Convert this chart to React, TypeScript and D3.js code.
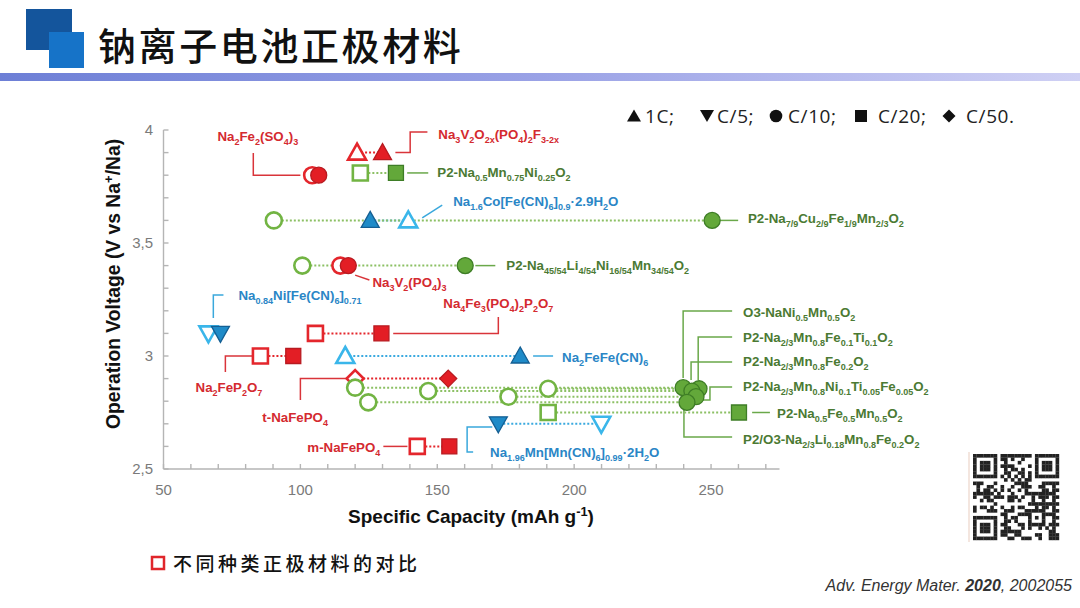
import React, { useEffect } from "react";
import * as d3 from "d3";

const W = 1080;
const H = 608;

// ---------- axis data ----------
const xTickValues = [50, 100, 150, 200, 250];
const xTickLabels = ["50", "100", "150", "200", "250"];
const yTickValues = [2.5, 3, 3.5, 4];
const yTickLabels = ["2,5", "3", "3,5", "4"];

// ---------- legend ----------
const rateOrder = ["1C", "C/5", "C/10", "C/20", "C/50"];
const rateLegendText = ["1C;", "C/5;", "C/10;", "C/20;", "C/50."];

// ---------- materials ----------
const materialNames = [
  "Na_{2}Fe_{2}(SO_{4})_{3}",
  "Na_{3}V_{2}O_{2x}(PO_{4})_{2}F_{3-2x}",
  "P2-Na_{0.5}Mn_{0.75}Ni_{0.25}O_{2}",
  "Na_{1.6}Co[Fe(CN)_{6}]_{0.9}·2.9H_{2}O",
  "P2-Na_{7/9}Cu_{2/9}Fe_{1/9}Mn_{2/3}O_{2}",
  "Na_{3}V_{2}(PO_{4})_{3}",
  "P2-Na_{45/54}Li_{4/54}Ni_{16/54}Mn_{34/54}O_{2}",
  "Na_{0.84}Ni[Fe(CN)_{6}]_{0.71}",
  "Na_{4}Fe_{3}(PO_{4})_{2}P_{2}O_{7}",
  "Na_{2}FeP_{2}O_{7}",
  "Na_{2}FeFe(CN)_{6}",
  "t-NaFePO_{4}",
  "O3-NaNi_{0.5}Mn_{0.5}O_{2}",
  "P2-Na_{2/3}Mn_{0.8}Fe_{0.1}Ti_{0.1}O_{2}",
  "P2-Na_{2/3}Mn_{0.8}Fe_{0.2}O_{2}",
  "P2-Na_{2/3}Mn_{0.8}Ni_{0.1}Ti_{0.05}Fe_{0.05}O_{2}",
  "P2/O3-Na_{2/3}Li_{0.18}Mn_{0.8}Fe_{0.2}O_{2}",
  "P2-Na_{0.5}Fe_{0.5}Mn_{0.5}O_{2}",
  "Na_{1.96}Mn[Mn(CN)_{6}]_{0.99}·2H_{2}O",
  "m-NaFePO_{4}",
];
const materialFamilies = [
  "polyanion", "polyanion", "oxide", "pba", "oxide", "polyanion", "oxide", "pba",
  "polyanion", "polyanion", "pba", "polyanion", "oxide", "oxide", "oxide", "oxide",
  "oxide", "oxide", "pba", "polyanion",
];
const materialRates = [
  "C/10", "1C", "C/20", "1C", "C/10", "C/10", "C/10", "C/5",
  "C/20", "C/20", "1C", "C/50", "C/10", "C/10", "C/10", "C/10",
  "C/10", "C/20", "C/5", "C/20",
];
const materialVoltages = [
  3.8, 3.9, 3.81, 3.6, 3.6, 3.4, 3.4, 3.1,
  3.1, 3.0, 3.0, 2.9, 2.86, 2.855, 2.845, 2.82,
  2.795, 2.75, 2.7, 2.6,
];
const openCapacities = [
  104.3, 120.7, 121.9, 139.4, 90.3, 114.6, 100.7, 66.4,
  105.5, 85.4, 116.4, 120.0, 120.0, 190.5, 146.7, 176.0,
  124.8, 190.5, 209.9, 142.7,
];
const filledCapacities = [
  106.7, 130.0, 134.9, 125.5, 250.4, 117.5, 160.2, 70.8,
  129.6, 97.4, 180.3, 154.0, 239.8, 245.6, 243.0, 244.5,
  241.2, 260.2, 172.3, 154.4,
];

// ---------- annotation layout (data units: capacity, voltage) ----------
const labelAnchors: [number, number, string][] = [
  [69.7, 3.951, "start"],
  [150.4, 3.96, "start"],
  [150.0, 3.792, "start"],
  [155.8, 3.664, "start"],
  [263.5, 3.588, "start"],
  [126.3, 3.305, "start"],
  [175.2, 3.381, "start"],
  [77.4, 3.248, "start"],
  [152.2, 3.212, "start"],
  [61.7, 2.841, "start"],
  [195.6, 2.973, "start"],
  [86.1, 2.708, "start"],
  [261.7, 3.173, "start"],
  [261.7, 3.062, "start"],
  [261.7, 2.956, "start"],
  [261.7, 2.845, "start"],
  [261.7, 2.611, "start"],
  [274.1, 2.726, "start"],
  [169.3, 2.553, "start"],
  [129.2, 2.575, "end"],
];
const leaderPaths: [number, number][][] = [
  [[82.8, 3.898], [82.8, 3.8], [100, 3.8]],
  [[134.7, 3.9], [140.1, 3.9], [140.1, 3.991], [146.4, 3.991]],
  [[139, 3.81], [146.7, 3.81]],
  [[144.5, 3.611], [151.8, 3.668]],
  [[253.3, 3.6], [259.9, 3.6]],
  [[120, 3.358], [125.2, 3.336]],
  [[163.9, 3.4], [171.2, 3.4]],
  [[68.2, 3.168], [68.2, 3.27], [71.9, 3.27]],
  [[133.9, 3.1], [172.3, 3.1], [172.3, 3.173]],
  [[82.5, 3.0], [72.6, 3.0], [72.6, 2.929]],
  [[185, 3.0], [192.3, 3.0]],
  [[117.5, 2.9], [100, 2.9], [100, 2.805]],
  [[239.8, 2.903], [239.8, 3.199], [257.7, 3.199]],
  [[245.3, 2.894], [245.3, 3.084], [257.7, 3.084]],
  [[242.7, 2.894], [242.7, 2.973], [257.7, 2.973]],
  [[247.1, 2.805], [249.6, 2.805], [249.6, 2.863], [257.7, 2.863]],
  [[240.1, 2.792], [240.1, 2.642], [257.7, 2.642]],
  [[265, 2.75], [271.5, 2.75]],
  [[170.1, 2.686], [160.9, 2.686], [160.9, 2.575], [163.1, 2.575]],
  [[130.3, 2.6], [139.1, 2.6]],
];

// ---------- styles ----------
const palette: Record<string, any> = {
  polyanion: { open: "#e4262c", fillFill: "#e31e25", fillStroke: "#b81a20", dot: "#e4262c", text: "#d42a30", leader: "#d9343a" },
  oxide: { open: "#72b443", fillFill: "#63a83a", fillStroke: "#3e7d26", dot: "#8cc064", text: "#4b7a33", leader: "#6aa84a" },
  pba: { open: "#3ab6ea", fillFill: "#1f8bc8", fillStroke: "#155f93", dot: "#3aa9df", text: "#2a86c6", leader: "#3aa8dc" },
};

const LABEL_FONT = "'Liberation Sans Narrow','Arial Narrow','Liberation Sans',Arial,sans-serif";
const SANS = "'Liberation Sans',Arial,sans-serif";
const CJK = "'Noto Sans CJK SC','Noto Sans CJK JP',sans-serif";

function markerPath(rate: string): string {
  switch (rate) {
    case "1C":
      return "M0,-9L9,7L-9,7Z";
    case "C/5":
      return "M0,9L9,-7L-9,-7Z";
    case "C/10": {
      const p = d3.path();
      p.arc(0, 0, 8, 0, Math.PI * 2);
      p.closePath();
      return p.toString();
    }
    case "C/20":
      return "M-7.5,-7.5H7.5V7.5H-7.5Z";
    default:
      return "M0,-8.5L8.5,0L0,8.5L-8.5,0Z";
  }
}

function legendPath(rate: string): string {
  switch (rate) {
    case "1C":
      return "M0,-6.5L7,5.5L-7,5.5Z";
    case "C/5":
      return "M0,6L7,-6L-7,-6Z";
    case "C/10": {
      const p = d3.path();
      p.arc(0, 0, 6.3, 0, Math.PI * 2);
      p.closePath();
      return p.toString();
    }
    case "C/20":
      return "M-6,-6H6V6H-6Z";
    default:
      return "M0,-6.5L6.5,0L0,6.5L-6.5,0Z";
  }
}

function richText(s: string, fs: number) {
  const parts = s.split(/(_\{[^}]*\}|\^\{[^}]*\})/).filter((p) => p.length > 0);
  let shift = 0;
  return parts.map((p, i) => {
    let target = 0;
    let txt = p;
    let size = fs;
    if (p.startsWith("_{")) {
      target = fs * 0.3;
      txt = p.slice(2, -1);
      size = fs * 0.68;
    } else if (p.startsWith("^{")) {
      target = -fs * 0.38;
      txt = p.slice(2, -1);
      size = fs * 0.68;
    }
    const dy = target - shift;
    shift = target;
    return (
      <tspan key={i} dy={dy} fontSize={size}>
        {txt}
      </tspan>
    );
  });
}

// QR-like decoration
function qrCells(n: number) {
  const cells: [number, number][] = [];
  const inFinder = (r: number, c: number) =>
    (r < 8 && c < 8) || (r < 8 && c >= n - 8) || (r >= n - 8 && c < 8);
  const finderOn = (r: number, c: number) => {
    const rr = r >= n - 8 ? r - (n - 7) : r;
    const cc = c >= n - 8 ? c - (n - 7) : c;
    if (rr < 0 || cc < 0 || rr > 6 || cc > 6) return false;
    if (rr === 0 || rr === 6 || cc === 0 || cc === 6) return true;
    return rr >= 2 && rr <= 4 && cc >= 2 && cc <= 4;
  };
  for (let r = 0; r < n; r++) {
    for (let c = 0; c < n; c++) {
      let on: boolean;
      if (inFinder(r, c)) on = finderOn(r, c);
      else if (r >= n - 9 && r <= n - 5 && c >= n - 9 && c <= n - 5) {
        const rr = r - (n - 9), cc = c - (n - 9);
        on = rr === 0 || rr === 4 || cc === 0 || cc === 4 || (rr === 2 && cc === 2);
      } else if (r === 6) on = c % 2 === 0;
      else if (c === 6) on = r % 2 === 0;
      else on = ((r * 31 + c * 17 + r * c * 7 + ((r ^ c) * 5)) % 11) < 5;
      if (on) cells.push([r, c]);
    }
  }
  return cells;
}

export default function App() {
  useEffect(() => {
    document.body.style.margin = "0";
  }, []);

  const x = d3.scaleLinear().domain([50, 275]).range([163.5, 779.5]);
  const y = d3.scaleLinear().domain([2.5, 4]).range([469, 130]);
  const line = d3
    .line<[number, number]>()
    .x((d) => x(d[0]))
    .y((d) => y(d[1]));

  const xMinor = d3.range(50, 271, 10);
  const yMinor = d3.range(25, 41, 1).map((v) => v / 10);

  const idx = d3.range(materialNames.length);

  const legendSymX = [634, 707, 776, 861, 949];
  const legendTextX = [645, 717, 788, 878, 966];

  const qrN = 25;
  const qrSize = 86;
  const qrX0 = 973;
  const qrY0 = 454;
  const cell = qrSize / qrN;

  return (
    <svg width={W} height={H} viewBox={`0 0 ${W} ${H}`} style={{ display: "block", background: "#fff" }}>
      <defs>
        <linearGradient id="bar" x1="0" x2="1" y1="0" y2="0">
          <stop offset="0" stopColor="#6d7fd6" />
          <stop offset="0.5" stopColor="#9aa2e6" />
          <stop offset="1" stopColor="#cfd0f4" />
        </linearGradient>
      </defs>
      <rect width={W} height={H} fill="#fff" />

      {/* header */}
      <rect x={26} y={9} width={46} height={41} fill="#14559c" />
      <rect x={49} y={32} width={35} height={36} fill="#1673c8" />
      <text x={98} y={60} fontFamily={CJK} fontSize={38} fontWeight={500} letterSpacing={2.6} fill="#111">
        钠离子电池正极材料
      </text>
      <rect x={0} y={73} width={W} height={8} fill="url(#bar)" />

      {/* legend */}
      {rateOrder.map((r, i) => (
        <g key={r}>
          <path d={legendPath(r)} transform={`translate(${legendSymX[i]},116)`} fill="#111" />
          <text x={legendTextX[i]} y={122.5} fontFamily="'Open Sans',Lato,sans-serif" fontSize={19} letterSpacing={0.6} fill="#222">
            {rateLegendText[i]}
          </text>
        </g>
      ))}

      {/* axes */}
      <g stroke="#b5b5b5" strokeWidth={1.4} fill="none">
        <line x1={x(50)} x2={x(275)} y1={y(2.5)} y2={y(2.5)} />
        <line x1={x(50)} x2={x(50)} y1={y(2.5)} y2={y(4)} />
        {xMinor.map((v) => (
          <line key={"xt" + v} x1={x(v)} x2={x(v)} y1={y(2.5)} y2={y(2.5) - 5} />
        ))}
        {yMinor.map((v) => (
          <line key={"yt" + v} x1={x(50)} x2={x(50) + 5} y1={y(v)} y2={y(v)} />
        ))}
      </g>
      {xTickValues.map((v, i) => (
        <text key={"xl" + v} x={x(v)} y={495} textAnchor="middle" fontFamily={SANS} fontSize={15} fill="#7a7a7a">
          {xTickLabels[i]}
        </text>
      ))}
      {yTickValues.map((v, i) => (
        <text key={"yl" + v} x={153} y={y(v) + 5} textAnchor="end" fontFamily={SANS} fontSize={15} fill="#7a7a7a">
          {yTickLabels[i]}
        </text>
      ))}
      <text x={471} y={523} textAnchor="middle" fontFamily={SANS} fontSize={19} fontWeight="bold" fill="#111">
        {richText("Specific Capacity (mAh g^{-1})", 19)}
      </text>
      <text
        transform={`translate(120,284) rotate(-90)`}
        textAnchor="middle"
        fontFamily={SANS}
        fontSize={19.3}
        fontWeight="bold"
        fill="#111"
      >
        {richText("Operation Voltage (V vs Na^{+}/Na)", 19.3)}
      </text>

      {/* leaders */}
      {idx.map((i) => (
        <path
          key={"ld" + i}
          d={line(leaderPaths[i]) || ""}
          fill="none"
          stroke={palette[materialFamilies[i]].leader}
          strokeWidth={1.5}
        />
      ))}

      {/* dotted connectors */}
      {idx.map((i) => (
        <line
          key={"dt" + i}
          x1={x(openCapacities[i])}
          x2={x(filledCapacities[i])}
          y1={y(materialVoltages[i])}
          y2={y(materialVoltages[i])}
          stroke={palette[materialFamilies[i]].dot}
          strokeWidth={2}
          strokeDasharray="2,2"
        />
      ))}

      {/* open markers */}
      {idx.map((i) => (
        <path
          key={"om" + i}
          d={markerPath(materialRates[i])}
          transform={`translate(${x(openCapacities[i])},${y(materialVoltages[i])})`}
          fill="#fff"
          stroke={palette[materialFamilies[i]].open}
          strokeWidth={2.6}
          strokeLinejoin="miter"
        />
      ))}

      {/* filled markers */}
      {idx.map((i) => (
        <path
          key={"fm" + i}
          d={markerPath(materialRates[i])}
          transform={`translate(${x(filledCapacities[i])},${y(materialVoltages[i])})`}
          fill={palette[materialFamilies[i]].fillFill}
          stroke={palette[materialFamilies[i]].fillStroke}
          strokeWidth={1.3}
        />
      ))}

      {/* labels */}
      {idx.map((i) => (
        <text
          key={"lb" + i}
          x={x(labelAnchors[i][0])}
          y={y(labelAnchors[i][1])}
          textAnchor={labelAnchors[i][2]}
          fontFamily={LABEL_FONT}
          fontSize={13.3}
          fontWeight="bold"
          fill={palette[materialFamilies[i]].text}
        >
          {richText(materialNames[i], 13.3)}
        </text>
      ))}

      {/* QR decoration */}
      <line x1={969} x2={969} y1={452} y2={542} stroke="#e9cdbf" strokeWidth={1} />
      <g fill="#222">
        {qrCells(qrN).map(([r, c]) => (
          <rect key={r + "-" + c} x={qrX0 + c * cell} y={qrY0 + r * cell} width={cell + 0.2} height={cell + 0.2} />
        ))}
      </g>

      {/* footer */}
      <rect x={152} y={557} width={12} height={12} fill="none" stroke="#e0262b" strokeWidth={2.5} />
      <text x={173} y={571} fontFamily={CJK} fontSize={19} fontWeight={500} letterSpacing={3.5} fill="#111">
        不同种类正极材料的对比
      </text>
      <text x={1072} y={591} textAnchor="end" fontFamily={LABEL_FONT} fontSize={16} fontStyle="italic" fill="#333">
        Adv. Energy Mater. <tspan fontWeight="bold">2020</tspan>, 2002055
      </text>
    </svg>
  );
}
